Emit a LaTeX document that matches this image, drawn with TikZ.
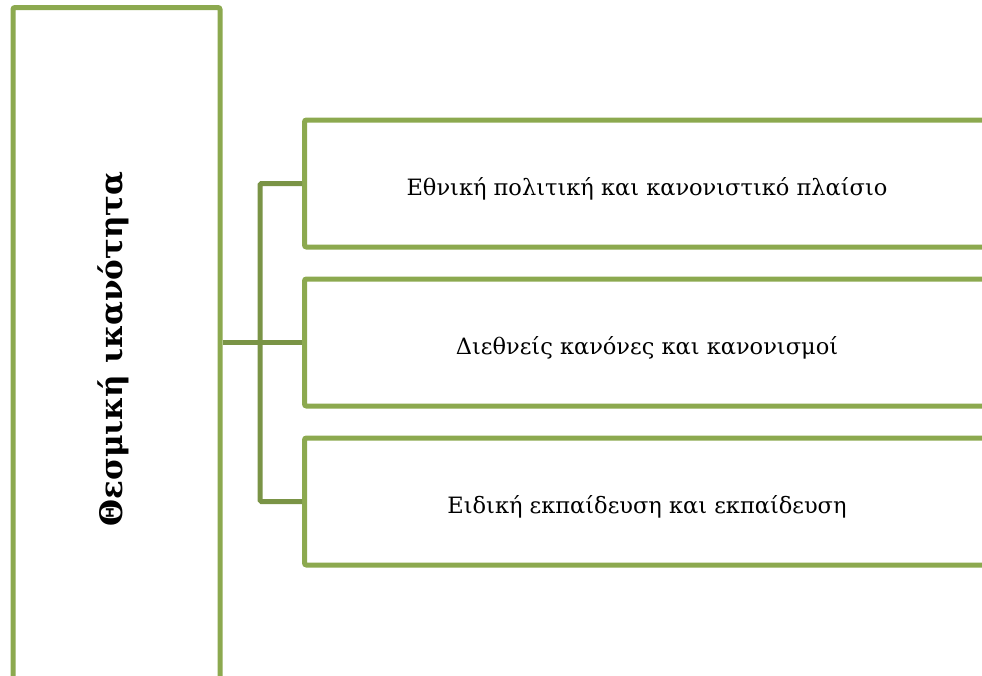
\documentclass[tikz,border=0pt]{standalone}
\usepackage{fontspec}
\setmainfont{DejaVu Serif}
\definecolor{boxgreen}{HTML}{8CA94F}
\definecolor{conngreen}{HTML}{7A9446}
\tikzset{
  box/.style={draw=boxgreen, line width=5pt, rounded corners=2pt, fill=white, inner sep=0pt},
  itembox/.style={box, minimum width=685.5pt, minimum height=127pt},
  itemtext/.style={font=\fontsize{22.5}{26}\selectfont, inner sep=0pt},
  conn/.style={draw=conngreen, line width=5pt, rounded corners=1.5pt},
}
\begin{document}
\begin{tikzpicture}[x=1pt,y=-1pt]
\useasboundingbox (0,0) rectangle (982,675);
\clip (0,0) rectangle (982,675);
\node[box, minimum width=207pt, minimum height=682.5pt] (L) at (116.5,348.75) {};
\node[rotate=90, font=\bfseries\fontsize{31}{36}\selectfont, inner sep=0pt] (Lt) at (113,349) {Θεσμική ικανότητα};
\node[itembox] (b1) at (647.25,183.5) {};
\node[itembox] (b2) at (647.25,342.5) {};
\node[itembox] (b3) at (647.25,501.5) {};
\node[itemtext] (t1) at (647,189) {Εθνική πολιτική και κανονιστικό πλαίσιο};
\node[itemtext] (t2) at (647,348) {Διεθνείς κανόνες και κανονισμοί};
\node[itemtext] (t3) at (647,507) {Ειδική εκπαίδευση και εκπαίδευση};
\draw[conn] (L.east |- b2.west) -- (b2.west);
\draw[conn] (b1.west) -- ++(-42,0) |- (b3.west);
\end{tikzpicture}
\end{document}
